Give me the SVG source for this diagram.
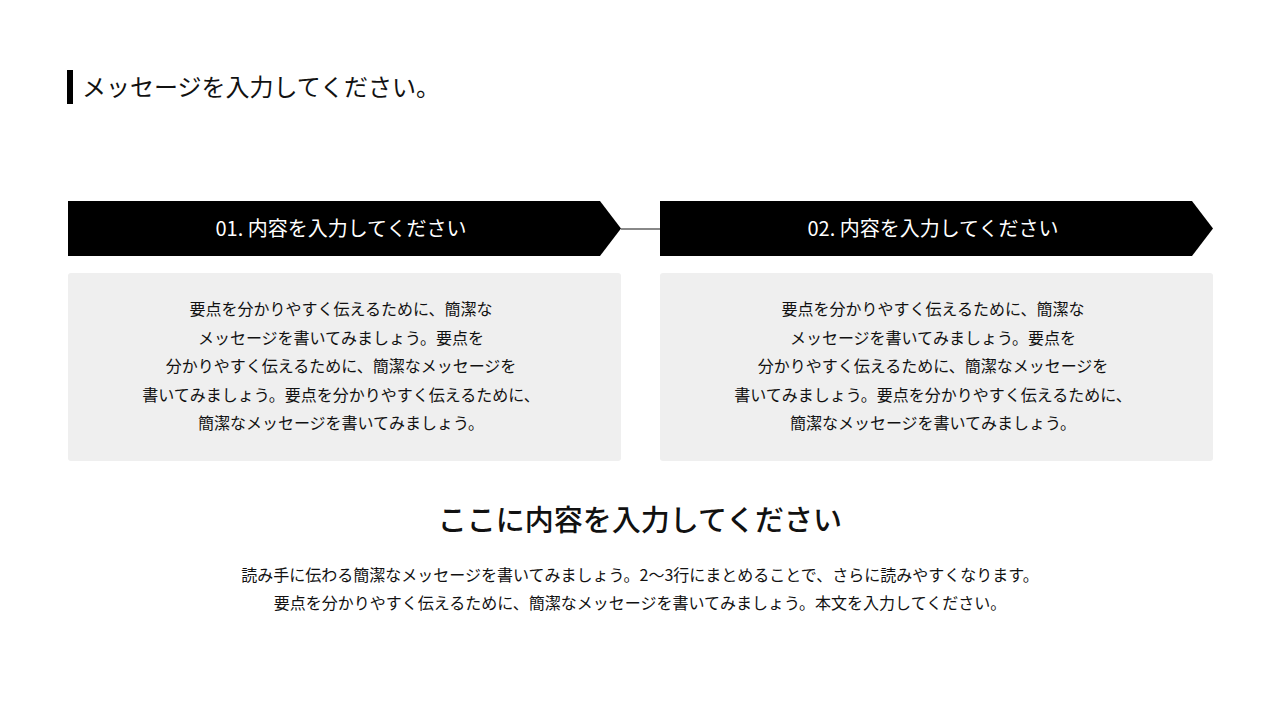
<svg xmlns="http://www.w3.org/2000/svg" width="1280" height="720" viewBox="0 0 1280 720">
<style>
text{font-family:"Noto Sans CJK JP","Noto Sans",sans-serif;fill:#111}
.h{fill:#fff;font-size:20px;text-anchor:middle}
.b{font-size:16px;text-anchor:middle}
.box{fill:#efefef}
</style>
<rect width="1280" height="720" fill="#fff"/>
<g id="title"><rect x="67" y="70" width="6" height="34" fill="#000"/><text x="82" y="96" font-size="24">メッセージを入力してください。</text></g>
<g id="connectors"><line x1="621" y1="229" x2="660" y2="229" stroke="#888" stroke-width="2"/></g>
<g id="step1">
<polygon points="68,201 600,201 621,228.5 600,256 68,256" fill="#000"/>
<text class="h" x="341" y="236">01. 内容を入力してください</text>
<rect class="box" x="68" y="273" width="553" height="188" rx="3"/>
<text class="b" x="341" y="315">要点を分かりやすく伝えるために、簡潔な</text>
<text class="b" x="341" y="344">メッセージを書いてみましょう。要点を</text>
<text class="b" x="341" y="372">分かりやすく伝えるために、簡潔なメッセージを</text>
<text class="b" x="341" y="401">書いてみましょう。要点を分かりやすく伝えるために、</text>
<text class="b" x="341" y="429">簡潔なメッセージを書いてみましょう。</text>
</g>
<g id="step2">
<polygon points="660,201 1192,201 1213,228.5 1192,256 660,256" fill="#000"/>
<text class="h" x="933" y="236">02. 内容を入力してください</text>
<rect class="box" x="660" y="273" width="553" height="188" rx="3"/>
<text class="b" x="933" y="315">要点を分かりやすく伝えるために、簡潔な</text>
<text class="b" x="933" y="344">メッセージを書いてみましょう。要点を</text>
<text class="b" x="933" y="372">分かりやすく伝えるために、簡潔なメッセージを</text>
<text class="b" x="933" y="401">書いてみましょう。要点を分かりやすく伝えるために、</text>
<text class="b" x="933" y="429">簡潔なメッセージを書いてみましょう。</text>
</g>
<g id="summary">
<text x="640" y="531" font-size="29" text-anchor="middle" font-weight="500">ここに内容を入力してください</text>
<text class="b" x="640" y="581">読み手に伝わる簡潔なメッセージを書いてみましょう。2〜3行にまとめることで、さらに読みやすくなります。</text>
<text class="b" x="640" y="609">要点を分かりやすく伝えるために、簡潔なメッセージを書いてみましょう。本文を入力してください。</text>
</g>
</svg>
